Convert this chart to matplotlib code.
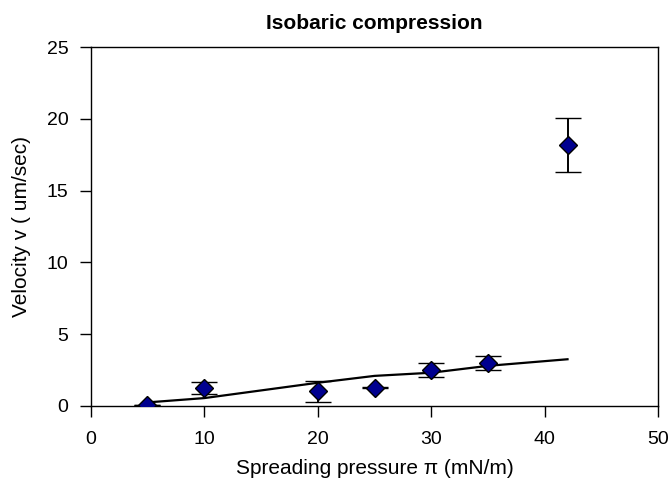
import matplotlib

matplotlib.use("Agg")
import matplotlib.pyplot as plt

plt.rcParams["font.family"] = ["Liberation Sans", "DejaVu Sans"]

# measured points with error bars
pressure = [5, 10, 20, 25, 30, 35, 42]
velocity = [0.05, 1.25, 1.0, 1.25, 2.5, 3.0, 18.2]
velocity_err = [0.0, 0.4, 0.75, 0.05, 0.5, 0.5, 1.9]

# trend line (drawn through the low-pressure points)
trend_x = [5, 10, 20, 25, 30, 35, 42]
trend_y = [0.23, 0.53, 1.6, 2.08, 2.3, 2.78, 3.24]

x_ticks = [0, 10, 20, 30, 40, 50]
y_ticks = [0, 5, 10, 15, 20, 25]

fig = plt.figure(figsize=(6.7, 4.82), dpi=100)
ax = fig.add_axes([0.1354, 0.1583, 0.8472, 0.7436])

ax.plot(trend_x, trend_y, color="black", lw=1.6, zorder=2)
ax.errorbar(
    pressure, velocity, yerr=velocity_err, fmt="D", color="black",
    ecolor="black", elinewidth=1.4, capsize=9.5, capthick=1.4,
    markerfacecolor="#00008f", markeredgecolor="black", markeredgewidth=1.0,
    markersize=9, zorder=3,
)

ax.set_xlim(0, 50)
ax.set_ylim(0, 25)
ax.set_xticks(x_ticks)
ax.set_yticks(y_ticks)
ax.tick_params(direction="out", length=8, width=1, labelsize=14, top=False, right=False)
ax.tick_params(axis="x", pad=10)
ax.tick_params(axis="y", pad=8)
for side in ax.spines.values():
    side.set_linewidth(1.0)

ax.set_title("Isobaric compression", fontsize=15, fontweight="bold", pad=13)
ax.set_xlabel("Spreading pressure \u03c0 (mN/m)", fontsize=15, labelpad=8)
ax.set_ylabel("Velocity v ( um/sec)", fontsize=15, labelpad=11)

fig.savefig("out.png", dpi=100)
